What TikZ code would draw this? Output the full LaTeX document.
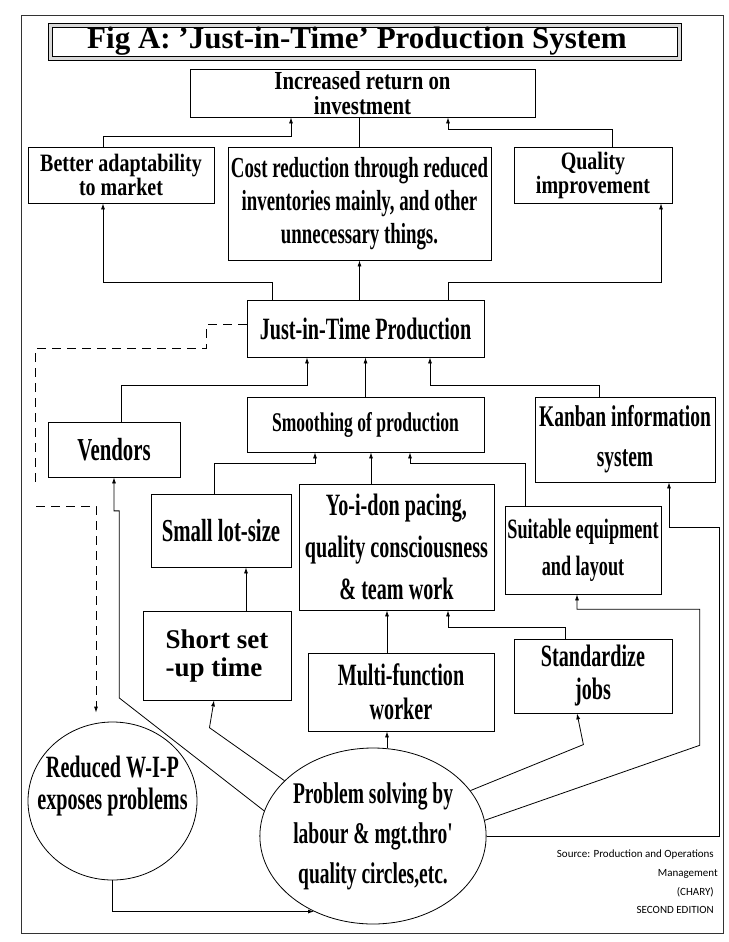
\documentclass[tikz,border=0pt]{standalone}
\usepackage{fontspec}
\setmainfont{Liberation Serif}
\newfontfamily\cnd{Liberation Serif Bold}[FakeStretch=0.65]
\newfontfamily\cndw{Liberation Serif Bold}[FakeStretch=0.8]
\newfontfamily\srcfont{Carlito}
\usetikzlibrary{arrows.meta,shapes.geometric,calc}
\newcommand\fsz[2]{\fontsize{#1}{#2}\selectfont\cnd}
\newcommand\fszw[2]{\fontsize{#1}{#2}\selectfont\cndw}
\begin{document}
\begin{tikzpicture}[x=1pt,y=-1pt,
  box/.style={draw,line width=0.8pt,rectangle,inner sep=0pt,align=center},
  circ/.style={draw,line width=0.8pt,ellipse,inner sep=0pt,align=center},
  ln/.style={line width=0.8pt},
  arr/.style={line width=0.8pt,-{Latex[length=6pt,width=4pt]}},
  src/.style={anchor=east,inner sep=0pt,font=\fontsize{11}{13}\selectfont\srcfont}]
\useasboundingbox (0,0) rectangle (728,942);
% outer frame
\draw[line width=0.8pt,black!80] (21,15) rectangle (723,933);
% title
\fill[black!15] (48,23) rectangle (681,60);
\fill[white] (52,27) rectangle (677,56);
\draw[line width=0.8pt] (48,23) rectangle (681,60);
\draw[line width=0.5pt] (52,27) rectangle (677,56);
\node[inner sep=0pt,font=\fontsize{31}{34}\selectfont\bfseries] (title) at (357,42) {\underline{Fig A: 'Just-in-Time' Production System}};
% boxes
\node[box,minimum width=345,minimum height=48,font=\fszw{26}{25}] (inc) at (362.5,93) {Increased return on\\investment};
\node[box,minimum width=186,minimum height=56,font=\fszw{25}{24}] (better) at (121,175) {Better adaptability\\to market};
\node[box,minimum width=263,minimum height=113,font=\fsz{29}{33}] (cost) at (359.5,203.5) {Cost reduction through reduced\\inventories mainly, and other\\unnecessary things.};
\node[box,minimum width=158,minimum height=56,font=\fszw{25}{24}] (qual) at (593,175) {Quality\\improvement};
\node[box,minimum width=237,minimum height=57,font=\fsz{31}{34}] (jit) at (365.5,328.5) {Just-in-Time Production};
\node[box,minimum width=132,minimum height=55,font=\fsz{32}{34}] (vend) at (114,449.5) {Vendors};
\node[box,minimum width=237,minimum height=55,font=\fsz{27}{30}] (smooth) at (365.5,424.5) {Smoothing of production};
\node[box,minimum width=180,minimum height=85,font=\fsz{30}{40}] (kanban) at (625,439.5) {Kanban information\\system};
\node[box,minimum width=140,minimum height=73,font=\fsz{32}{36}] (small) at (221,530.5) {Small lot-size};
\node[box,minimum width=195,minimum height=126,font=\fsz{31}{42}] (yoi) at (396.5,547) {Yo-i-don pacing,\\quality consciousness\\\& team work};
\node[box,minimum width=156,minimum height=88,font=\fsz{28}{37}] (suit) at (583,550) {Suitable equipment\\and layout};
\node[box,minimum width=148,minimum height=89,align=left,font=\fontsize{27}{28}\selectfont\bfseries] (short) at (217,655.5) {Short set\\-up time};
\node[box,minimum width=186,minimum height=78,font=\fsz{31}{34}] (multi) at (401,692) {Multi-function\\worker};
\node[box,minimum width=158,minimum height=74,font=\fsz{31}{33}] (stand) at (593,676) {Standardize\\jobs};
\node[circ,minimum width=169,minimum height=158] (wip) at (112.5,801) {};
\node[inner sep=0pt,align=center,font=\fsz{31}{32}] (wipt) at (112.5,786) {Reduced W-I-P\\exposes problems};
\node[circ,minimum width=202,minimum height=176,font=\fsz{30}{40}] (prob) at (373,836) {Problem solving by\\labour \& mgt.thro'\\quality circles,etc.};
% source
\node[src] (s1) at (714,855) {Source: Production and Operations};
\node[src] (s2) at (718,874) {Management};
\node[src] (s3) at (714,892) {(CHARY)};
\node[src] (s4) at (714,910) {SECOND EDITION};
% top connectors
\draw[arr] ([xshift=-18pt]better.north) -- ++(0,-10) -| ([xshift=-71.5pt]inc.south);
\draw[ln] (cost.north) -- (cost.north |- inc.south);
\draw[arr] ([xshift=19pt]qual.north) -- ++(0,-17) -| ([xshift=85.5pt]inc.south);
\draw[arr] ([xshift=-93.5pt]jit.north) -- ++(0,-17) -| ([xshift=-18pt]better.south);
\draw[arr] (cost.south |- jit.north) -- (cost.south);
\draw[arr] ([xshift=82.5pt]jit.north) -- ++(0,-17) -| ([xshift=68pt]qual.south);
% middle
\draw[arr] ([xshift=7pt]vend.north) -- ++(0,-36) -| ([xshift=-58.5pt]jit.south);
\draw[arr] (smooth.north) -- (jit.south);
\draw[arr] ([xshift=-26pt]kanban.north) -- ++(0,-11) -| ([xshift=64.5pt]jit.south);
\draw[arr] ([xshift=-7pt]small.north) -- ++(0,-30) -| ([xshift=-50.5pt]smooth.south);
\draw[arr] ([xshift=5.5pt]smooth.south |- yoi.north) -- ([xshift=5.5pt]smooth.south);
\draw[arr] ([xshift=-58pt]suit.north) -- ++(0,-42) -| ([xshift=44.5pt]smooth.south);
\draw[arr] ([xshift=25pt]small.south |- short.north) -- ([xshift=25pt]small.south);
\draw[arr] ([xshift=-9.5pt]yoi.south |- multi.north) -- ([xshift=-9.5pt]yoi.south);
\draw[arr] ([xshift=-28pt]stand.north) -- ++(0,-11) -| ([xshift=51.5pt]yoi.south);
% from problem solving
\draw[arr] (prob.148) -- ++(-75,-53) -- ([xshift=-3pt]short.south);
\draw[arr] ([xshift=-14pt]multi.south |- prob.north) -- ([xshift=-14pt]multi.south);
\draw[arr] (prob.25) -- ++(113,-46) -- ([xshift=-16pt]stand.south);
\draw[arr] (prob.8) -- ++(215,-75) -- ++(0,-136) -| ([xshift=-6pt]suit.south);
\draw[arr] (prob.east) -- ++(233,0) -- ++(0,-309) -| ([xshift=44pt]kanban.south);
\draw[arr] (prob.167) -- ++(-145,-113) -- ++(0,-187) -| (vend.south);
\draw[arr] (wip.south) |- (prob.232);
% dashed
\coordinate (dsA) at (36,506);
\draw[ln,dash pattern=on 9pt off 6pt] ([yshift=4.5pt]jit.west) -- ++(-40,0) -- ++(0,24) -- ++(-171,0) -- ++(0,136);
\draw[arr,dash pattern=on 9pt off 6pt] (dsA) -- ++(60,0) -- ([xshift=-16.5pt,yshift=9pt]wip.north);
\end{tikzpicture}
\end{document}
